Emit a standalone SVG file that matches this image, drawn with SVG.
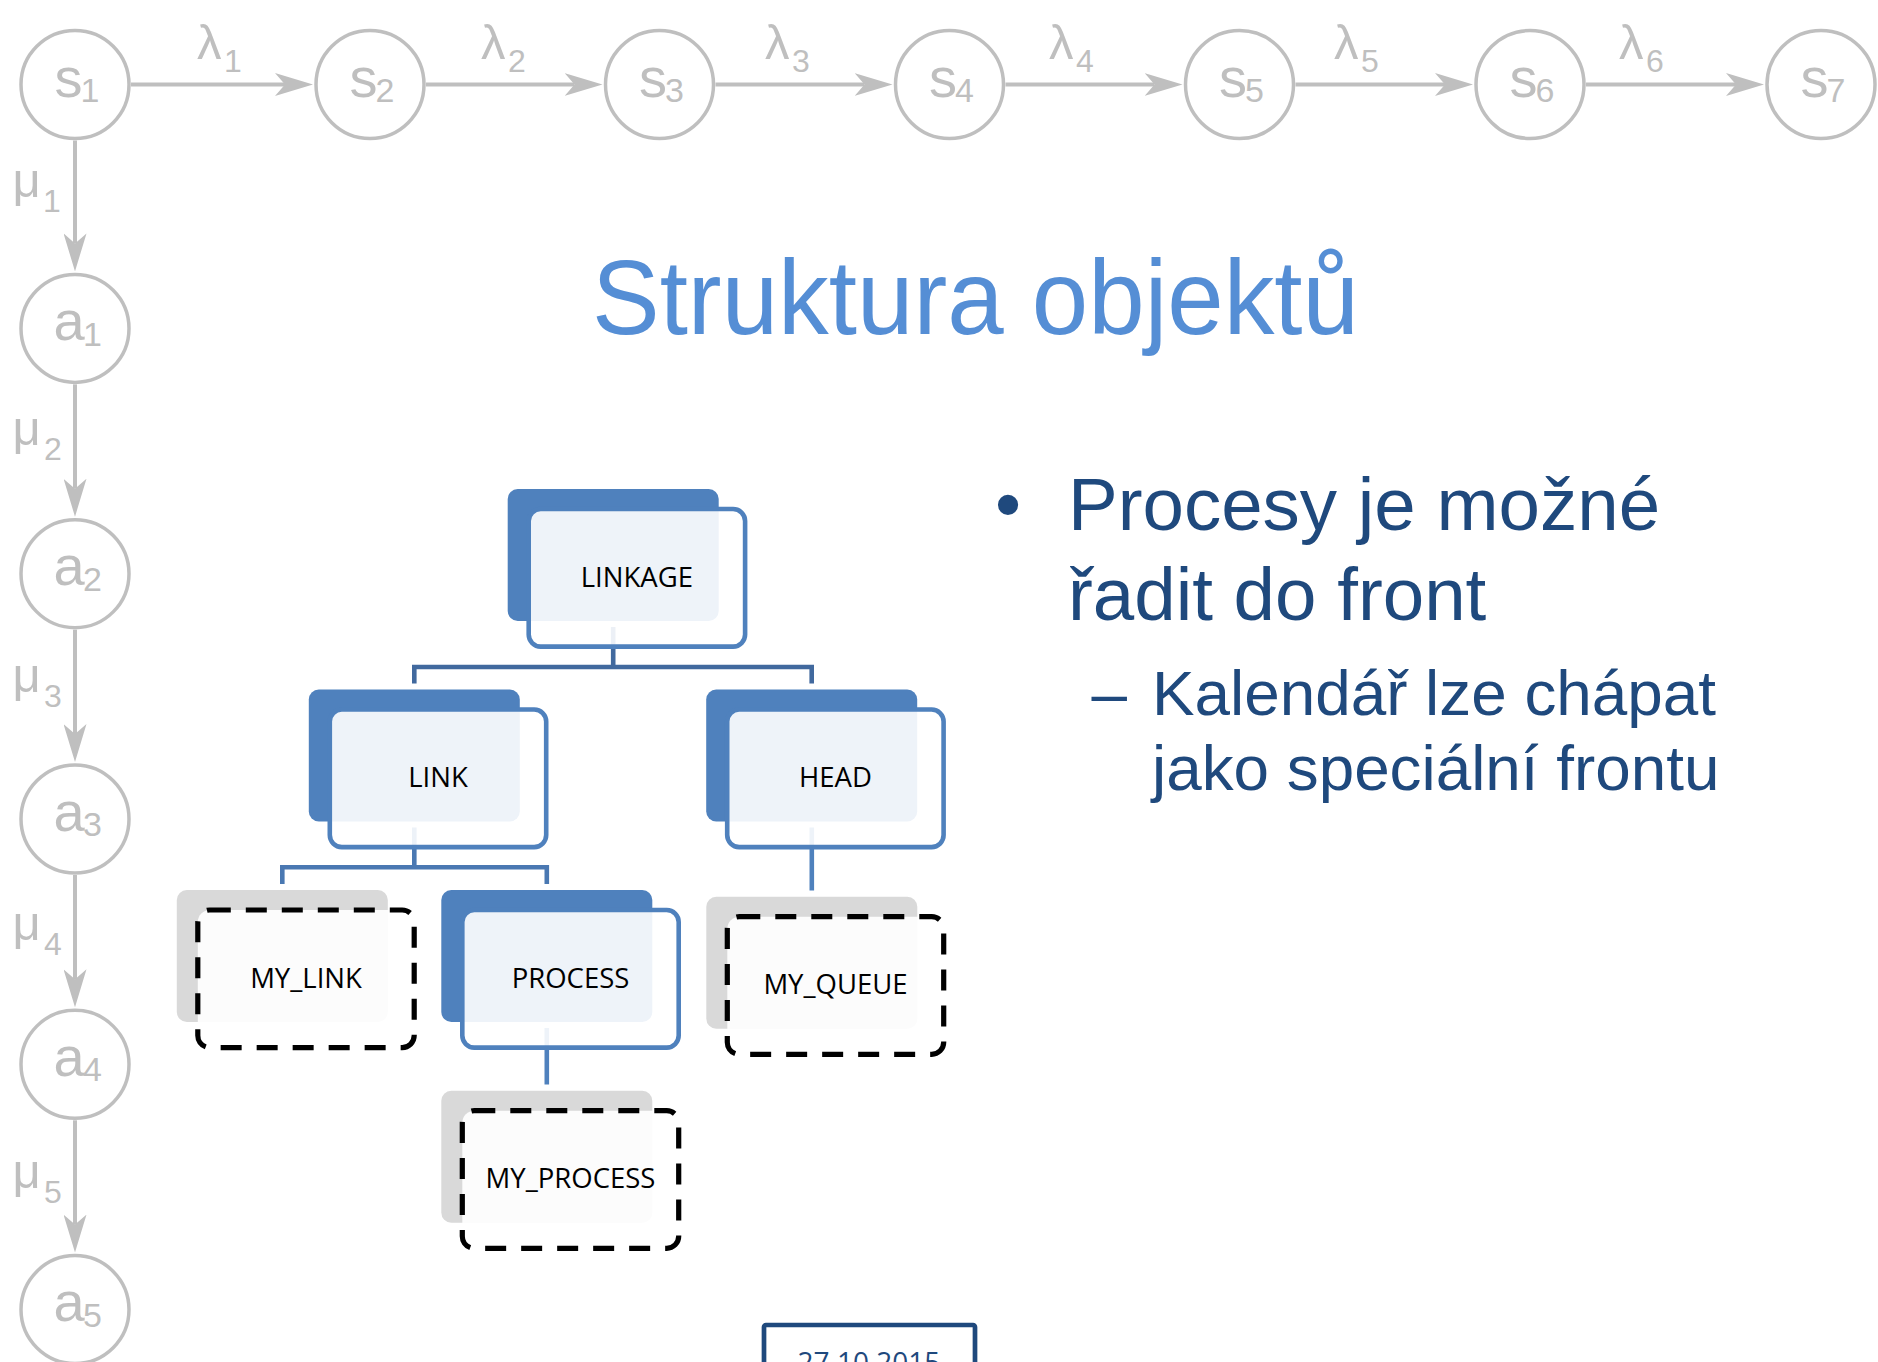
<svg xmlns="http://www.w3.org/2000/svg" width="1878" height="1362" viewBox="0 0 1878 1362">
  <style>
    .st { fill: #ffffff; stroke: #BFBFBF; stroke-width: 3.5; }
    .edge { fill: none; stroke: #BFBFBF; stroke-width: 4; marker-end: url(#arr); }
    .glabel { font-family: "Liberation Sans", Arial, sans-serif; fill: #BFBFBF; }
    .big { font-size: 56px; }
    .sub { font-size: 34px; }
    .lam { font-size: 49px; }
    .lsub { font-size: 32px; }
    .back { fill: #4F81BD; }
    .gback { fill: #D9D9D9; }
    .front { fill: #ffffff; fill-opacity: 0.9; stroke: #4F81BD; stroke-width: 4.6; }
    .dfront { fill: #ffffff; fill-opacity: 0.9; stroke: #000000; stroke-width: 5.2; stroke-dasharray: 21 15; }
    .ntext { font-family: "Open Sans", "Liberation Sans", sans-serif; font-size: 27.5px; fill: #000000; text-anchor: middle; }
    .conn { fill: none; stroke-width: 4.6; stroke-linejoin: miter; }
    .title { font-family: "Liberation Sans", Arial, sans-serif; font-size: 105px; fill: #558ED5; }
    .body { font-family: "Liberation Sans", Arial, sans-serif; fill: #1F497D; }
  </style>
  <defs>
    <marker id="arr" markerUnits="userSpaceOnUse" markerWidth="38" markerHeight="23" viewBox="0 0 38 23" refX="10" refY="11.5" orient="auto">
      <path d="M0,0 L38,11.5 L0,23 L10,11.5 Z" fill="#BFBFBF"/>
    </marker>
  </defs>
  <rect width="1878" height="1362" fill="#ffffff"/>

  <!-- state chain: edges and rate labels -->
  <g id="chain-connectors">
    <path class="edge" d="M131 84.5 H285"/>
    <path class="edge" d="M426 84.5 H574.5"/>
    <path class="edge" d="M715.5 84.5 H864.5"/>
    <path class="edge" d="M1005.5 84.5 H1154.5"/>
    <path class="edge" d="M1295.5 84.5 H1445"/>
    <path class="edge" d="M1586 84.5 H1736"/>
    <path class="edge" d="M75 140.5 V243.4"/>
    <path class="edge" d="M75 384.4 V488.7"/>
    <path class="edge" d="M75 629.7 V734"/>
    <path class="edge" d="M75 875 V979.3"/>
    <path class="edge" d="M75 1120.3 V1224.6"/>

    <text class="glabel lam" x="197" y="59">λ<tspan class="lsub" x="224" y="72">1</tspan></text>
    <text class="glabel lam" x="481" y="59">λ<tspan class="lsub" x="508" y="72">2</tspan></text>
    <text class="glabel lam" x="765" y="59">λ<tspan class="lsub" x="792" y="72">3</tspan></text>
    <text class="glabel lam" x="1049" y="59">λ<tspan class="lsub" x="1076" y="72">4</tspan></text>
    <text class="glabel lam" x="1334" y="59">λ<tspan class="lsub" x="1361" y="72">5</tspan></text>
    <text class="glabel lam" x="1619" y="59">λ<tspan class="lsub" x="1646" y="72">6</tspan></text>

    <text class="glabel lam" x="12.5" y="197">μ<tspan class="lsub" x="43" y="212">1</tspan></text>
    <text class="glabel lam" x="12.5" y="445">μ<tspan class="lsub" x="44" y="460">2</tspan></text>
    <text class="glabel lam" x="12.5" y="692">μ<tspan class="lsub" x="44" y="707">3</tspan></text>
    <text class="glabel lam" x="12.5" y="940">μ<tspan class="lsub" x="44" y="955">4</tspan></text>
    <text class="glabel lam" x="12.5" y="1188">μ<tspan class="lsub" x="44" y="1203">5</tspan></text>
  </g>

  <!-- state nodes -->
  <g id="s1"><circle class="st" cx="75" cy="84.5" r="54"/><text class="glabel big" x="54.5" y="97">s<tspan class="sub" x="80.5" y="102">1</tspan></text></g>
  <g id="s2"><circle class="st" cx="370" cy="84.5" r="54"/><text class="glabel big" x="349.5" y="97">s<tspan class="sub" x="375.5" y="102">2</tspan></text></g>
  <g id="s3"><circle class="st" cx="659.5" cy="84.5" r="54"/><text class="glabel big" x="639" y="97">s<tspan class="sub" x="665" y="102">3</tspan></text></g>
  <g id="s4"><circle class="st" cx="949.5" cy="84.5" r="54"/><text class="glabel big" x="929" y="97">s<tspan class="sub" x="955" y="102">4</tspan></text></g>
  <g id="s5"><circle class="st" cx="1239.5" cy="84.5" r="54"/><text class="glabel big" x="1219" y="97">s<tspan class="sub" x="1245" y="102">5</tspan></text></g>
  <g id="s6"><circle class="st" cx="1530" cy="84.5" r="54"/><text class="glabel big" x="1509.5" y="97">s<tspan class="sub" x="1535.5" y="102">6</tspan></text></g>
  <g id="s7"><circle class="st" cx="1821" cy="84.5" r="54"/><text class="glabel big" x="1800.5" y="97">s<tspan class="sub" x="1826.5" y="102">7</tspan></text></g>

  <g id="a1"><circle class="st" cx="75" cy="328.4" r="54"/><text class="glabel big" x="53.5" y="340">a<tspan class="sub" x="83" y="345.5">1</tspan></text></g>
  <g id="a2"><circle class="st" cx="75" cy="573.7" r="54"/><text class="glabel big" x="53.5" y="585.3">a<tspan class="sub" x="83" y="590.8">2</tspan></text></g>
  <g id="a3"><circle class="st" cx="75" cy="819" r="54"/><text class="glabel big" x="53.5" y="830.6">a<tspan class="sub" x="83" y="836.1">3</tspan></text></g>
  <g id="a4"><circle class="st" cx="75" cy="1064.3" r="54"/><text class="glabel big" x="53.5" y="1075.9">a<tspan class="sub" x="83" y="1081.4">4</tspan></text></g>
  <g id="a5"><circle class="st" cx="75" cy="1309.6" r="54"/><text class="glabel big" x="53.5" y="1321.2">a<tspan class="sub" x="83" y="1326.7">5</tspan></text></g>

  <!-- slide text -->
  <text id="title" class="title" x="592" y="334" textLength="767" lengthAdjust="spacingAndGlyphs">Struktura objektů</text>
  <g id="bullets">
    <text class="body" x="995" y="530" font-size="74.5">•</text>
    <text class="body" x="1068" y="530" font-size="74.5">Procesy je možné</text>
    <text class="body" x="1068" y="620" font-size="74.5">řadit do front</text>
    <text class="body" x="1091.6" y="715" font-size="63.8">–</text>
    <text class="body" x="1152" y="715" font-size="63.8">Kalendář lze chápat</text>
    <text class="body" x="1152" y="790" font-size="63.8">jako speciální frontu</text>
  </g>

  <!-- hierarchy connectors (drawn under the boxes) -->
  <g id="tree-connectors">
    <path class="conn" stroke="#41699E" d="M613.2 627 V667 M414.3 683.5 V667 H811.7 V683.5"/>
    <path class="conn" stroke="#4A78B2" d="M414.3 827.5 V867.3 M282.3 884 V867.3 H546.8 V884"/>
    <path class="conn" stroke="#4F81BD" d="M546.8 1028 V1084.5"/>
    <path class="conn" stroke="#4F81BD" d="M811.8 827.5 V890.5"/>
  </g>

  <!-- hierarchy boxes: back plate, translucent front card, label -->
  <g id="linkage">
    <rect class="back" x="507.7" y="489" width="211" height="132" rx="10"/>
    <rect class="front" x="528.7" y="509" width="216.4" height="137.6" rx="12"/>
    <text class="ntext" x="636.9" y="586.5">LINKAGE</text>
  </g>
  <g id="link">
    <rect class="back" x="308.8" y="689.5" width="211" height="132" rx="10"/>
    <rect class="front" x="329.8" y="709.5" width="216.4" height="137.6" rx="12"/>
    <text class="ntext" x="438" y="787">LINK</text>
  </g>
  <g id="head">
    <rect class="back" x="706.2" y="689.5" width="211" height="132" rx="10"/>
    <rect class="front" x="727.2" y="709.5" width="216.4" height="137.6" rx="12"/>
    <text class="ntext" x="835.4" y="787">HEAD</text>
  </g>
  <g id="my_link">
    <rect class="gback" x="176.8" y="890" width="211" height="132" rx="10"/>
    <rect class="dfront" x="197.8" y="910" width="216.4" height="137.6" rx="12"/>
    <text class="ntext" x="306" y="987.5">MY_LINK</text>
  </g>
  <g id="process">
    <rect class="back" x="441.3" y="890" width="211" height="132" rx="10"/>
    <rect class="front" x="462.3" y="910" width="216.4" height="137.6" rx="12"/>
    <text class="ntext" x="570.5" y="987.5">PROCESS</text>
  </g>
  <g id="my_queue">
    <rect class="gback" x="706.3" y="896.7" width="211" height="132" rx="10"/>
    <rect class="dfront" x="727.3" y="916.7" width="216.4" height="137.6" rx="12"/>
    <text class="ntext" x="835.5" y="994.2">MY_QUEUE</text>
  </g>
  <g id="my_process">
    <rect class="gback" x="441.3" y="1090.7" width="211" height="132" rx="10"/>
    <rect class="dfront" x="462.3" y="1110.7" width="216.4" height="137.6" rx="12"/>
    <text class="ntext" x="570.5" y="1188.2">MY_PROCESS</text>
  </g>

  <!-- footer date, running off the bottom edge -->
  <g id="footer-date">
    <rect x="764" y="1325" width="211" height="80" rx="2" fill="#ffffff" stroke="#1F497D" stroke-width="4.7"/>
    <text x="869" y="1372" font-family="Open Sans, Liberation Sans, sans-serif" font-size="28" fill="#1F497D" text-anchor="middle">27.10.2015</text>
  </g>
</svg>
